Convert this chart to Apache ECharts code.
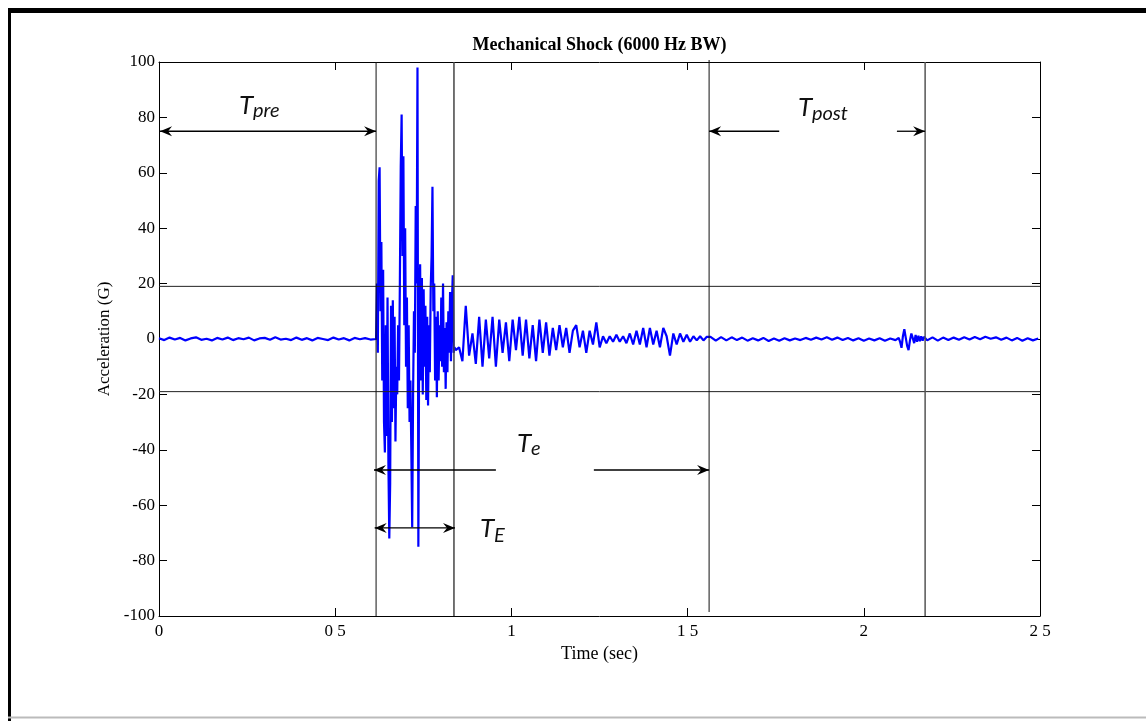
<!DOCTYPE html>
<html><head><meta charset="utf-8">
<script src="https://cdn.jsdelivr.net/npm/echarts@6/dist/echarts.min.js"></script>
<style>html,body{margin:0;padding:0;background:#fff}#c{width:1146px;height:721px}</style>
</head><body><div id="c"></div>
<script>
// ---------- data ----------
const titleText = 'Mechanical Shock (6000 Hz BW)';
const xName = 'Time (sec)';
const yName = 'Acceleration (G)';
const xTickLabels = ['0', '0 5', '1', '1 5', '2', '2 5'];
const yTickLabels = ['-100', '-80', '-60', '-40', '-20', '0', '20', '40', '60', '80', '100'];

// quiet pre-event record
const preStart = 0, preStep = 0.015;
const preValues = [0.3,-0.4,0.5,-0.2,0.4,-0.5,0.2,0.6,-0.3,0.1,-0.5,0.4,-0.2,0.5,-0.4,0.3,-0.1,0.5,-0.5,0.2,0.4,-0.3,0.6,-0.2,0.1,-0.4,0.5,-0.3,0.3,-0.5,0.4,0.0,-0.4,0.5,-0.2,0.3,-0.5,0.4,-0.1,0.3,-0.2];
// main shock burst
const burstStart = 0.616, burstStep = 0.0025;
const burstValues = [0,20,-5,57,62,10,35,-15,25,-30,-41,5,-35,15,-45,-72,-52,12,-30,14,-25,8,-37,-10,-20,5,-15,20,62,81,30,66,5,40,-10,15,-25,5,-30,-15,-40,-68,-20,10,-5,48,20,98,-75,5,27,-15,22,-20,18,-10,12,-22,8,-24,5,-12,18,30,55,10,20,-15,8,-21,10,-15,5,-8,15,-10,20,-12,4,-18,6,-12,10,-5,17,-8,12,23,-5,-3];
// ringing decay (peaks / troughs)
const decayStart = 0.842, decayStep = 0.0095;
const decayValues = [-4,-3,-8,12,-6,2,-9,8,-10,7,-7,8,-10,7,-5,6,-8,7,-4,8,-6,7,-7,5,-8,7,-5,6,-6,4,-4,5,-3,4,-5,3,5,-3,3,-5,3,-2,6,-3,1,-1.5,1,-1,1.5,-1,1,-1.5,2,-2,3,-2,4,-3,4,-2,3,-3,4,1,-6,2,-2,2,-1,1.5,-1,1,-0.5,1,-0.5,0.8];
// post-event record
const postStart = 1.565, postStep = 0.015;
const postValues = [0.8,-0.6,0.7,-0.5,0.6,-0.4,0.5,-0.6,0.3,-0.5,0.4,-0.7,0.2,-0.6,0.3,-0.5,0.2,-0.4,0.4,-0.3,0.5,-0.2,0.6,-0.3,0.5,-0.4,0.4,-0.5,0.3,-0.6,0.2,-0.5,0.3,-0.6,0.2,-0.4];
// small secondary event
const echoStart = 2.095, echoStep = 0.004;
const echoValues = [-0.3,0.4,-1.0,-3.2,1.0,3.5,0.5,-2.5,-4.0,-0.5,2.0,0.3,-1.5,1.5,-1.0,1.2,-0.8,1.0,-0.6,0.8];
// tail
const tailStart = 2.18, tailStep = 0.015;
const tailValues = [-0.5,0.6,-0.6,0.5,-0.4,0.5,-0.3,0.6,-0.2,0.7,-0.1,0.8,0.1,0.6,-0.3,0.5,-0.5,0.4,-0.6,0.3,-0.5,0.2];

// window boundaries (s) and thresholds (G)
const windowTimes = [0.616, 0.837, 1.561, 2.174];
const thresholdLevels = [19, -19];

// ---------- build ----------
function seg(start, step, vals) { return vals.map((v, i) => [+(start + i * step).toFixed(5), v]); }
const signal = [].concat(
  seg(preStart, preStep, preValues),
  seg(burstStart, burstStep, burstValues),
  seg(decayStart, decayStep, decayValues),
  seg(postStart, postStep, postValues),
  seg(echoStart, echoStep, echoValues),
  seg(tailStart, tailStep, tailValues)
);

const serif = 'Liberation Serif';
const axisLineStyle = { color: '#000', width: 1 };
const chart = echarts.init(document.getElementById('c'), null, { renderer: 'canvas' });
chart.setOption({
  animation: false,
  backgroundColor: '#fff',
  grid: { left: 159, right: 106, top: 62, bottom: 105, containLabel: false },
  xAxis: [{
    type: 'value', min: 0, max: 2.5, interval: 0.5, position: 'bottom',
    name: xName, nameLocation: 'middle', nameGap: 26,
    nameTextStyle: { fontFamily: serif, fontSize: 18, color: '#000' },
    axisLine: { show: true, onZero: false, lineStyle: axisLineStyle },
    axisTick: { show: true, inside: true, length: 8, lineStyle: axisLineStyle },
    axisLabel: { fontFamily: serif, fontSize: 17, color: '#000', margin: 7,
      formatter: v => xTickLabels[Math.round(v / 0.5)] },
    splitLine: { show: false }
  }, {
    type: 'value', min: 0, max: 2.5, interval: 0.5, position: 'top',
    axisLine: { show: true, onZero: false, lineStyle: axisLineStyle },
    axisTick: { show: true, inside: true, length: 8, lineStyle: axisLineStyle },
    axisLabel: { show: false }, splitLine: { show: false }
  }],
  yAxis: [{
    type: 'value', min: -100, max: 100, interval: 20, position: 'left',
    name: yName, nameLocation: 'middle', nameGap: 43, nameRotate: 90,
    nameTextStyle: { fontFamily: serif, fontSize: 17, color: '#000' },
    axisLine: { show: true, onZero: false, lineStyle: axisLineStyle },
    axisTick: { show: true, inside: true, length: 8, lineStyle: axisLineStyle },
    axisLabel: { fontFamily: serif, fontSize: 17, color: '#000', margin: 4,
      formatter: v => yTickLabels[Math.round((v + 100) / 20)] },
    splitLine: { show: false }
  }, {
    type: 'value', min: -100, max: 100, interval: 20, position: 'right',
    axisLine: { show: true, onZero: false, lineStyle: axisLineStyle },
    axisTick: { show: true, inside: true, length: 8, lineStyle: axisLineStyle },
    axisLabel: { show: false }, splitLine: { show: false }
  }],
  series: [{
    type: 'line', data: signal, showSymbol: false, symbol: 'none',
    sampling: 'none', smooth: false, clip: true,
    lineStyle: { color: '#0000ff', width: 2.2 }, z: 3
  }]
});

// ---------- annotations ----------
const P = (t, v) => chart.convertToPixel({ xAxisIndex: 0, yAxisIndex: 0 }, [t, v]);
const els = [];
// frame
els.push({ type: 'rect', shape: { x: 8, y: 8, width: 1140, height: 5 }, style: { fill: '#000' }, z: 100 });
els.push({ type: 'rect', shape: { x: 8, y: 8, width: 3, height: 715 }, style: { fill: '#000' }, z: 100 });
els.push({ type: 'line', shape: { x1: 8, y1: 717.5, x2: 1146, y2: 717.5 }, style: { stroke: '#bbb', lineWidth: 2 }, z: 100 });
// title
const tp = P(1.25, 100);
els.push({ type: 'text', x: tp[0], y: 45, style: { text: titleText, font: 'bold 18px "Liberation Serif"', fill: '#000', align: 'center', verticalAlign: 'middle' }, z: 50 });
// threshold lines
thresholdLevels.forEach(l => {
  const a = P(0, l), b = P(2.5, l);
  els.push({ type: 'line', shape: { x1: a[0], y1: a[1], x2: b[0], y2: b[1] }, style: { stroke: '#222', lineWidth: 1 }, z: 10 });
});
// window lines
const wStyles = [{ s: '#111', w: 1 }, { s: '#444', w: 1.5 }, { s: '#111', w: 1 }, { s: '#555', w: 1.5 }];
windowTimes.forEach((t, i) => {
  const a = P(t, -100), b = P(t, 100);
  let y2 = a[1];
  if (i === 2) y2 = a[1] - 4;
  els.push({ type: 'line', shape: { x1: a[0], y1: b[1] - (i === 2 ? 2 : 0), x2: a[0], y2: y2 }, style: { stroke: wStyles[i].s, lineWidth: wStyles[i].w }, z: 10 });
});
// arrows
function head(x, y, dir) {
  return { type: 'polygon', shape: { points: [[x, y], [x - dir * 12, y - 5], [x - dir * 8, y], [x - dir * 12, y + 5]] }, style: { fill: '#000' }, z: 20 };
}
function arrow(t1, t2, v, h1, h2) {
  const a = P(t1, v), b = P(t2, v);
  els.push({ type: 'line', shape: { x1: a[0], y1: a[1], x2: b[0], y2: b[1] }, style: { stroke: '#000', lineWidth: 1.3 }, z: 20 });
  if (h1) els.push(head(a[0], a[1], -1));
  if (h2) els.push(head(b[0], b[1], 1));
}
arrow(0.003, windowTimes[0], 75, true, true);
arrow(windowTimes[2], 1.76, 75, true, false);
arrow(2.094, windowTimes[3], 75, false, true);
arrow(windowTimes[0] - 0.006, 0.956, -47.3, true, false);
arrow(1.234, windowTimes[2], -47.3, false, true);
arrow(windowTimes[0] - 0.004, windowTimes[1] + 0.003, -68.2, true, true);
// labels
function label(t, v, sub, subDy) {
  const p = P(t, v);
  els.push({ type: 'text', x: p[0], y: p[1], style: { text: 'T', font: 'italic 26px Lato', fill: '#111', align: 'left', verticalAlign: 'middle' }, z: 30 });
  els.push({ type: 'text', x: p[0] + 14, y: p[1] + subDy, style: { text: sub, font: 'italic 20px Lato', fill: '#111', align: 'left', verticalAlign: 'middle' }, z: 30 });
}
label(0.227, 84.1, 'pre', 5);
label(1.813, 83.4, 'post', 6);
label(1.016, -37.9, 'e', 5);
label(0.911, -68.6, 'E', 7);
chart.setOption({ graphic: { elements: els } });
</script>
</body></html>
